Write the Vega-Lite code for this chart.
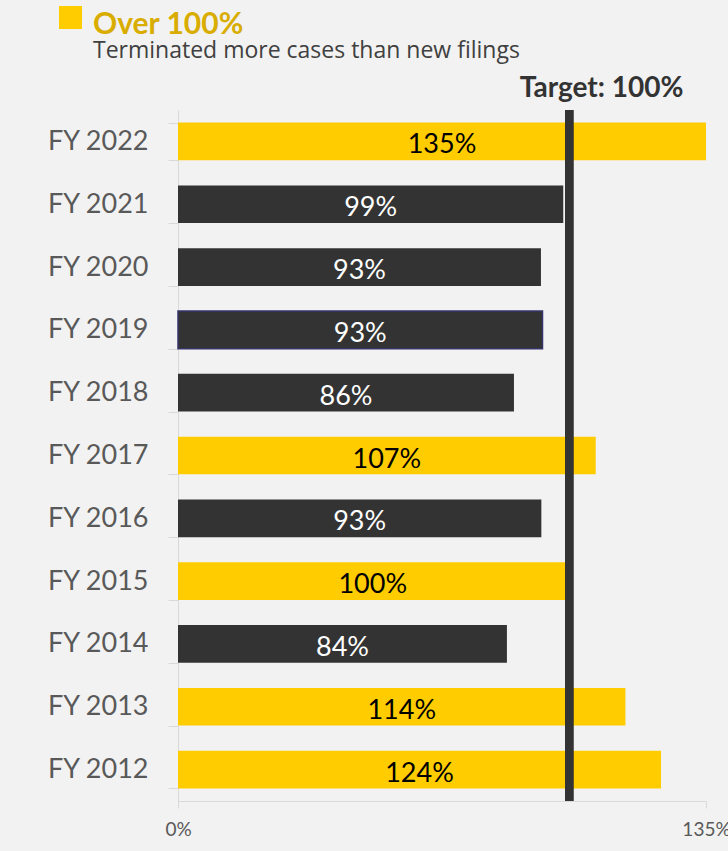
{
  "$schema": "https://vega.github.io/schema/vega-lite/v6.json",
  "width": 528,
  "height": 691,
  "autosize": {"type": "none"},
  "padding": {"left": 178, "top": 110, "right": 22, "bottom": 50},
  "background": "#f2f2f2",
  "config": {"view": {"stroke": null}, "font": "Lato"},
  "title": {
    "text": "Over 100%",
    "subtitle": "Terminated more cases than new filings",
    "anchor": "start",
    "frame": "group",
    "dx": -85,
    "offset": -57,
    "fontSize": 30,
    "fontWeight": "bold",
    "color": "#d9ad00",
    "font": "Lato",
    "subtitleFont": "Open Sans",
    "subtitleFontSize": 23,
    "subtitleColor": "#404040",
    "subtitlePadding": 0
  },
  "data": {
    "values": [
      {"year": "FY 2022", "value": 135, "label": "135%", "status": "Over 100%"},
      {"year": "FY 2021", "value": 98.5, "label": "99%", "status": "Under 100%"},
      {"year": "FY 2020", "value": 92.8, "label": "93%", "status": "Under 100%"},
      {"year": "FY 2019", "value": 93.2, "label": "93%", "status": "Under 100%"},
      {"year": "FY 2018", "value": 85.9, "label": "86%", "status": "Under 100%"},
      {"year": "FY 2017", "value": 106.8, "label": "107%", "status": "Over 100%"},
      {"year": "FY 2016", "value": 92.9, "label": "93%", "status": "Under 100%"},
      {"year": "FY 2015", "value": 99.6, "label": "100%", "status": "Over 100%"},
      {"year": "FY 2014", "value": 84.1, "label": "84%", "status": "Under 100%"},
      {"year": "FY 2013", "value": 114.4, "label": "114%", "status": "Over 100%"},
      {"year": "FY 2012", "value": 123.5, "label": "124%", "status": "Over 100%"}
    ]
  },
  "layer": [
    {
      "mark": {"type": "bar"},
      "encoding": {
        "y": {
          "field": "year",
          "type": "nominal",
          "sort": null,
          "scale": {"paddingInner": 0.4, "paddingOuter": 0.2},
          "axis": {
            "title": null,
            "labelFontSize": 27,
            "labelColor": "#595959",
            "labelFont": "Lato",
            "tickBand": "extent",
            "tickColor": "#d9d9d9",
            "tickSize": 10,
            "domainColor": "#d9d9d9",
            "labelPadding": 20
          }
        },
        "x": {
          "field": "value",
          "type": "quantitative",
          "scale": {"domain": [0, 135], "nice": false},
          "axis": {
            "orient": "bottom",
            "values": [0, 135],
            "labelExpr": "datum.value + '%'",
            "title": null,
            "grid": false,
            "labelFontSize": 19,
            "labelColor": "#595959",
            "labelFont": "Lato",
            "domainColor": "#d9d9d9",
            "tickColor": "#d9d9d9",
            "tickSize": 7,
            "labelPadding": 12,
            "labelFlush": false
          }
        },
        "color": {
          "field": "status",
          "type": "nominal",
          "scale": {"domain": ["Over 100%", "Under 100%"], "range": ["#ffcc00", "#333333"]},
          "legend": {
            "values": ["Over 100%"],
            "labelExpr": "''",
            "orient": "none",
            "legendX": -119,
            "legendY": -104,
            "title": null,
            "symbolType": "square",
            "symbolSize": 529,
            "symbolStrokeWidth": 0,
            "symbolOpacity": 1,
            "labelFontSize": 1,
            "labelOffset": 0,
            "padding": 0
          }
        },
        "stroke": {"value": "#35356b"},
        "strokeWidth": {"condition": {"test": "datum.year === 'FY 2019'", "value": 1.5}, "value": 0}
      }
    },
    {
      "mark": {"type": "rule", "color": "#333333", "size": 8},
      "encoding": {
        "x": {
          "datum": 100,
          "type": "quantitative",
          "scale": {"domain": [0, 135], "nice": false},
          "axis": {
            "orient": "top",
            "values": [100],
            "labelExpr": "'Target: 100%'",
            "title": null,
            "grid": false,
            "domain": false,
            "ticks": false,
            "labelFont": "Lato",
            "labelFontSize": 28,
            "labelFontWeight": "bold",
            "labelColor": "#333333",
            "labelOffset": 32,
            "labelPadding": 8
          }
        }
      }
    },
    {
      "mark": {"type": "text", "fontSize": 27, "font": "Lato", "baseline": "middle", "dy": 4},
      "encoding": {
        "y": {"field": "year", "type": "nominal", "sort": null},
        "x": {
          "field": "value",
          "type": "quantitative",
          "scale": {"domain": [0, 270], "nice": false},
          "axis": null
        },
        "text": {"field": "label"},
        "color": {
          "condition": {"test": "datum.status === 'Over 100%'", "value": "#000000"},
          "value": "#ffffff"
        }
      }
    }
  ],
  "resolve": {"scale": {"x": "independent"}, "axis": {"x": "independent"}}
}
